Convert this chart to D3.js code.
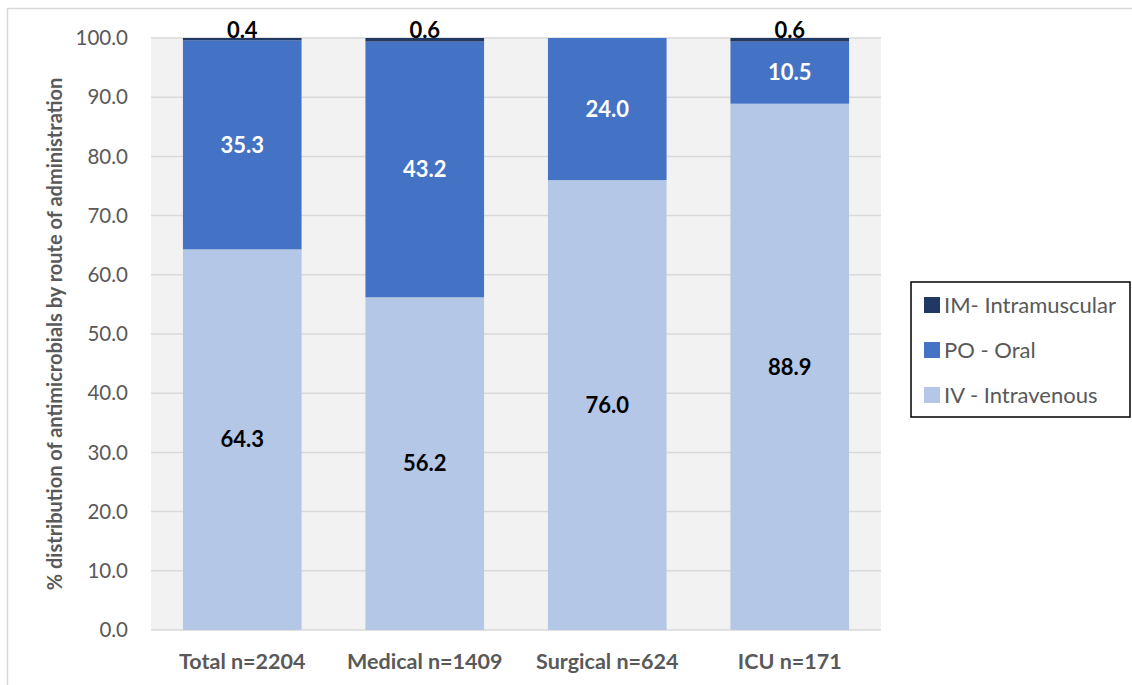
<!DOCTYPE html>
<html><head><meta charset="utf-8">
<script src="https://cdn.jsdelivr.net/npm/d3@7"></script>
<style>body{margin:0;background:#fff;} text{font-family:Lato,"Open Sans",sans-serif;}</style>
</head><body>
<svg id="c" width="1132" height="685"></svg>
<script>
const categories = ["Total n=2204","Medical n=1409","Surgical n=624","ICU n=171"];
const ivValues = [64.3, 56.2, 76.0, 88.9];
const poValues = [35.3, 43.2, 24.0, 10.5];
const imValues = [0.4, 0.6, 0, 0.6];
const seriesNames = ["IV - Intravenous","PO - Oral","IM- Intramuscular"];
const yTicks = [0,10,20,30,40,50,60,70,80,90,100];
const colors = ["#b4c7e7","#4472c4","#203864"];

(function(){
const svg = d3.select("#c");
// outer chart border
svg.append("rect").attr("x",7.5).attr("y",8.5).attr("width",1140).attr("height",700)
  .attr("fill","none").attr("stroke","#d9d9d9").attr("stroke-width",1.5);

const pL=151, pR=881, pT=38, pB=630;
const x = d3.scaleBand().domain(categories).range([pL,pR]).paddingInner(0.35).paddingOuter(0.175);
const y = d3.scaleLinear().domain([0,100]).range([pB,pT]);

svg.append("rect").attr("x",pL).attr("y",pT).attr("width",pR-pL).attr("height",pB-pT).attr("fill","#f2f2f2");

svg.append("g").selectAll("line").data(yTicks).join("line")
  .attr("x1",pL).attr("x2",pR).attr("y1",d=>y(d)).attr("y2",d=>y(d))
  .attr("stroke","#d9d9d9").attr("stroke-width",1.5);

const data = categories.map((c,i)=>({cat:c, iv:ivValues[i], po:poValues[i], im:imValues[i]}));
const keys = ["iv","po","im"];
const stack = d3.stack().keys(keys)(data);

stack.forEach((layer,li)=>{
  svg.append("g").selectAll("rect").data(layer).join("rect")
    .attr("x",d=>x(d.data.cat)).attr("width",x.bandwidth())
    .attr("y",d=>y(d[1])).attr("height",d=>Math.max(0,y(d[0])-y(d[1])))
    .attr("fill",colors[li]);
});

// labels
const lbl = svg.append("g").attr("font-weight","bold").attr("font-size",22).attr("text-anchor","middle");
stack.forEach((layer,li)=>{
  layer.forEach(d=>{
    const v = d.data[keys[li]];
    if (v<=0) return;
    const cx = x(d.data.cat)+x.bandwidth()/2;
    const cy = li===2 ? y(d[1])-8 : y((d[0]+d[1])/2);
    lbl.append("text").attr("x",cx).attr("y",cy).attr("dy","0.35em")
      .attr("fill", li===1 ? "#ffffff" : "#000000").text(v.toFixed(1));
  });
});

// y axis tick labels
svg.append("g").selectAll("text").data(yTicks).join("text")
  .attr("x",128).attr("y",d=>y(d)).attr("dy","0.35em").attr("text-anchor","end")
  .attr("font-size",20.5).attr("fill","#595959").text(d=>d.toFixed(1));

// x labels
svg.append("g").selectAll("text").data(categories).join("text")
  .attr("x",d=>x(d)+x.bandwidth()/2).attr("y",661).attr("dy","0.35em").attr("text-anchor","middle")
  .attr("font-size",21.5).attr("font-weight","bold").attr("fill","#595959").text(d=>d);

// y title
svg.append("text").attr("transform","translate(55,334) rotate(-90)").attr("text-anchor","middle")
  .attr("dy","0.35em").attr("font-size",20).attr("font-weight","bold").attr("fill","#595959")
  .text("% distribution of antimicrobials by route of administration");

// legend
const lg = svg.append("g");
lg.append("rect").attr("x",911).attr("y",282).attr("width",219).attr("height",135)
  .attr("fill","#fff").attr("stroke","#000").attr("stroke-width",1.5);
[2,1,0].forEach((si,k)=>{
  const cy = 305 + k*45;
  lg.append("rect").attr("x",924).attr("y",cy-8).attr("width",16).attr("height",16).attr("fill",colors[si]);
  lg.append("text").attr("x",944).attr("y",cy).attr("dy","0.35em").attr("font-size",22)
    .attr("fill","#595959").text(seriesNames[si]);
});
})();
</script>
</body></html>
